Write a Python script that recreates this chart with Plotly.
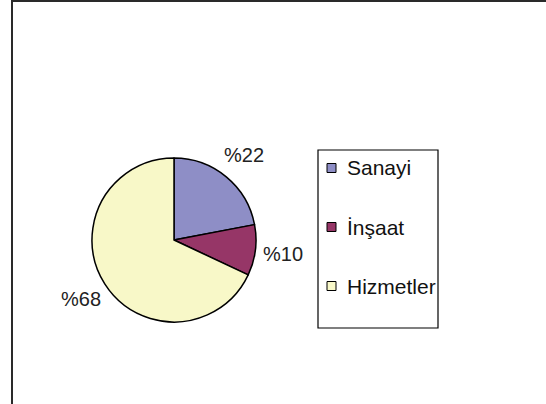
import math
import plotly.graph_objects as go

labels = ["Sanayi", "İnşaat", "Hizmetler"]
values = [22, 10, 68]
colors = ["#8E8EC6", "#963667", "#F8F8C8"]
text_labels = ["%" + str(v) for v in values]

W, H = 546, 404
FONT = "Liberation Sans, Arial, sans-serif"

def px(x):
    return x / W

def py(y):
    return 1 - y / H

CX, CY, R = 174, 240, 82
LABEL_R = 110

fig = go.Figure()
fig.add_trace(go.Pie(
    labels=labels,
    values=values,
    textinfo="none",
    marker=dict(colors=colors, line=dict(color="#000000", width=1.5)),
    sort=False,
    direction="clockwise",
    rotation=0,
    showlegend=False,
    hoverinfo="label+value",
    domain=dict(x=[px(CX - R), px(CX + R)], y=[py(CY + R), py(CY - R)]),
))

shapes = [
    # outer chart-area border (extends beyond the visible window)
    dict(type="rect", xref="paper", yref="paper",
         x0=px(12), x1=1.2, y0=-0.2, y1=py(1),
         line=dict(color="#2a2a2a", width=2), fillcolor="rgba(0,0,0,0)", layer="above"),
    # legend box
    dict(type="rect", xref="paper", yref="paper",
         x0=px(318), x1=px(438), y0=py(328), y1=py(150),
         line=dict(color="#000000", width=1.2), fillcolor="rgba(0,0,0,0)", layer="above"),
]
annotations = []

# data labels placed radially at each slice's mid-angle
total = sum(values)
cum = 0
for v, t in zip(values, text_labels):
    mid = (cum + v / 2) / total * 2 * math.pi
    cum += v
    lx = CX + LABEL_R * math.sin(mid)
    ly = CY - LABEL_R * math.cos(mid)
    annotations.append(dict(xref="paper", yref="paper", x=px(lx), y=py(ly),
                            xanchor="center", yanchor="middle", showarrow=False,
                            text=t, font=dict(family=FONT, size=20, color="#222222")))

item_y0, item_step = 168, 59
for i, (lab, col) in enumerate(zip(labels, colors)):
    yc = item_y0 + i * item_step
    shapes.append(dict(type="rect", xref="paper", yref="paper",
                       x0=px(327), x1=px(336), y0=py(yc + 4.5), y1=py(yc - 4.5),
                       line=dict(color="#000000", width=1), fillcolor=col))
    annotations.append(dict(xref="paper", yref="paper", x=px(345), y=py(yc),
                            xanchor="left", yanchor="middle", showarrow=False,
                            text=lab, font=dict(family=FONT, size=21, color="#111111")))

fig.update_layout(
    width=W, height=H,
    margin=dict(l=0, r=0, t=0, b=0),
    paper_bgcolor="#FFFFFF",
    plot_bgcolor="#FFFFFF",
    shapes=shapes,
    annotations=annotations,
    font=dict(family=FONT),
)

fig.write_html("out.html",
               config={"displayModeBar": False},
               post_script="document.body.style.margin='0';document.body.style.overflow='hidden';")
